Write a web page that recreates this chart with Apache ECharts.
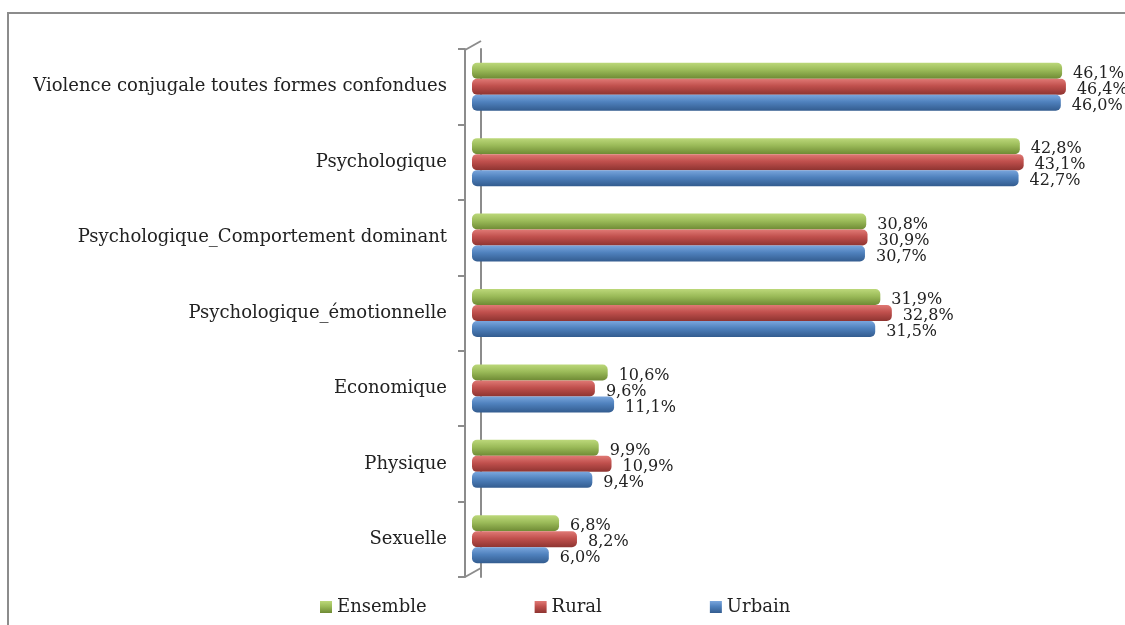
<!DOCTYPE html>
<html>
<head>
<meta charset="utf-8">
<script src="https://cdn.jsdelivr.net/npm/echarts@6/dist/echarts.min.js"></script>
<style>
  html, body { margin: 0; padding: 0; background: #fff; }
  #main { width: 1125px; height: 625px; }
</style>
</head>
<body>
<div id="main"></div>
<script>
var categories = [
    'Violence conjugale toutes formes confondues',
    'Psychologique',
    'Psychologique_Comportement dominant',
    'Psychologique_émotionnelle',
    'Economique',
    'Physique',
    'Sexuelle'
];
var ensemble = [46.1, 42.8, 30.8, 31.9, 10.6, 9.9, 6.8];
var rural    = [46.4, 43.1, 30.9, 32.8, 9.6, 10.9, 8.2];
var urbain   = [46.0, 42.7, 30.7, 31.5, 11.1, 9.4, 6.0];

var fontName = 'DejaVu Serif';

function cyl(top, mid, bottom) {
    return new echarts.graphic.LinearGradient(0, 0, 0, 1, [
        {offset: 0, color: top},
        {offset: 0.45, color: mid},
        {offset: 1, color: bottom}
    ]);
}

function pct(p) {
    return p.value.toFixed(1).replace('.', ',') + '%';
}

function makeSeries(name, data, grad, solid) {
    return {
        name: name,
        type: 'bar',
        data: data,
        barWidth: 16,
        barGap: '0%',
        color: solid,
        itemStyle: {
            color: grad,
            borderRadius: 5
        },
        label: {
            show: true,
            position: 'right',
            distance: 11,
            offset: [0, 3],
            fontFamily: fontName,
            fontSize: 16,
            color: '#222',
            formatter: pct
        }
    };
}

var myChart = echarts.init(document.getElementById('main'));

var option = {
    animation: false,
    textStyle: {fontFamily: fontName},
    grid: {
        left: 472,
        right: 13,
        top: 49,
        bottom: 48
    },
    legend: {
        left: 315,
        top: 593,
        itemWidth: 12,
        itemHeight: 12,
        itemGap: 108,
        icon: 'rect',
        textStyle: {fontFamily: fontName, fontSize: 18, color: '#222'},
        data: ['Ensemble', 'Rural', 'Urbain']
    },
    xAxis: {
        type: 'value',
        min: 0,
        max: 50,
        show: false
    },
    yAxis: [
        {
            type: 'category',
            inverse: true,
            data: categories,
            offset: 7,
            axisLine: {show: true, onZero: false, lineStyle: {color: '#8c8c8c', width: 2}},
            axisTick: {show: true, length: 7, lineStyle: {color: '#8c8c8c', width: 2}},
            axisLabel: {
                margin: 18,
                fontFamily: fontName,
                fontSize: 18,
                color: '#222'
            }
        },
        {
            type: 'category',
            inverse: true,
            position: 'left',
            data: categories,
            offset: -9,
            axisLine: {show: true, onZero: false, lineStyle: {color: '#8c8c8c', width: 2}},
            axisTick: {show: false},
            axisLabel: {show: false}
        }
    ],
    graphic: [
        {
            type: 'rect',
            shape: {x: 8, y: 13, width: 1200, height: 700},
            style: {fill: 'none', stroke: '#8c8c8c', lineWidth: 2},
            silent: true
        },
        {
            type: 'line',
            shape: {x1: 465, y1: 50, x2: 481, y2: 41},
            style: {stroke: '#8c8c8c', lineWidth: 2}
        },
        {
            type: 'line',
            shape: {x1: 465, y1: 577, x2: 481, y2: 568},
            style: {stroke: '#8c8c8c', lineWidth: 2}
        }
    ],
    series: [
        makeSeries('Ensemble', ensemble, cyl('#bcd87a', '#9bbb59', '#6e8a34'), '#9bbb59'),
        makeSeries('Rural', rural, cyl('#e07975', '#c0504d', '#8e3431'), '#c0504d'),
        makeSeries('Urbain', urbain, cyl('#7aa6dd', '#4f81bd', '#335c8f'), '#4f81bd')
    ]
};

myChart.setOption(option);

window.onresize = function () {
    myChart.resize();
};
</script>
</body>
</html>
